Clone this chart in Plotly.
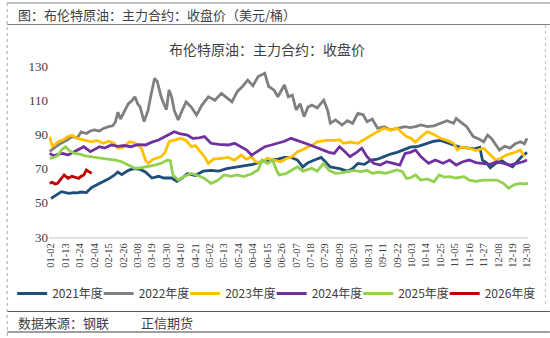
import plotly.graph_objects as go
import pandas as pd

# ---- data: day-of-year (on a leap-year axis) and close price (USD/bbl) ----
days_2021 = [2,5,8,10,13,16,19,22,25,29,33,37,41,46,50,53,56,61,65,70,74,79,84,88,94,98,102,106,112,118,124,130,136,144,150,156,162,168,175,180,185,190,194,198,203,208,215,222,228,232,236,241,246,251,256,261,266,271,276,282,289,294,299,304,309,314,319,325,329,331,334,337,341,346,350,354,358,361,365]
vals_2021 = [52.5,54,55.5,56.5,56,55.5,56,55.8,56.3,56,59,60.5,62,64,66,68,66.5,69,70,69.5,68,64.5,65.5,64.5,64.5,62.5,64.5,67,66,68.5,69,68.5,70,71,72,72.5,74,75,75.5,76.5,76.5,75,71,73.5,75,76.5,71,70,68.5,70,73,72.5,75,75.5,77,78.5,79.5,81,82.5,83,84.8,86,86.5,85,83.8,82.5,82,81.5,82.5,75,73.5,70.5,73,74.5,72.5,71,74.5,77,79.5]

days_2022 = [1,4,7,10,14,18,22,25,29,32,35,39,42,46,49,51,53,55,58,61,64,66,68,70,73,76,78,81,83,86,88,90,92,94,96,99,102,105,109,113,117,122,127,132,136,140,144,148,152,156,160,165,168,172,175,178,180,183,186,189,192,195,198,201,205,210,213,215,219,224,228,232,236,240,243,247,251,256,261,266,272,276,280,284,289,294,299,304,309,311,314,319,324,328,332,335,338,341,344,348,352,356,360,363,365]
vals_2022 = [80,82,83.5,85,86.5,88.7,88,91.5,90.5,92,92.6,92,93.5,94.5,95,97,103,99,104,108,110,112,108,106,97.5,104,112,122.8,121,112,108,104.5,116,112,104,98.5,104,109,106,101.3,107,112,110,114,111.5,109,115,118,121.8,118.5,123.8,125.7,118,116,112,116,118.9,112,113,104.3,108,100.4,106,107.2,105.5,110,104,96.5,98.5,95.5,98,96.5,102.3,101.5,97.4,99,93.6,94.5,92.6,93.5,94.5,94,94.5,95.5,94.5,95,96.5,98,96.5,99.4,97.5,94.5,88.7,87.5,85.7,89.6,87.5,84,80.9,83,82,84.5,85.7,84.5,87.7]

days_2023 = [1,3,5,8,11,15,18,22,26,30,33,37,42,46,50,53,57,62,66,71,74,76,80,86,89,92,96,101,105,109,112,115,119,122,126,132,137,142,147,151,155,158,162,167,172,177,182,186,190,194,198,202,205,209,213,218,222,225,230,236,240,246,251,256,261,266,270,273,276,280,284,289,294,299,304,309,312,315,321,326,332,337,341,345,349,354,360,363]
vals_2023 = [88.7,83,84,86,86.7,88.7,89.5,87.7,87,86,85.7,86.5,84.8,86,84.8,81.9,82.5,85.7,85,81.9,75,73.1,75.5,77,79.5,85.7,86.7,87.7,86.5,82.8,83.5,80.9,77,73.1,75.5,76,76.5,75,77.9,75.5,77,74,73.5,76,75,74,76,77,79.9,81,82.8,84,85.7,86,86.7,86.5,86.9,84.8,85.5,84.8,86.7,89.6,91.6,93.6,92.5,93.6,91,88.7,88,85.5,88.5,91.6,90,87.7,86.5,84.8,80.9,82.5,81.9,80.5,81.9,77.9,75,76,77.9,79,80.9,77]

days_2024 = [1,4,8,11,15,19,24,27,32,35,39,43,48,53,58,63,68,74,79,84,89,93,96,100,104,106,110,115,119,124,130,137,142,147,151,155,159,165,170,175,180,185,190,192,197,203,206,210,214,218,222,226,230,235,239,243,248,253,258,263,268,272,276,280,284,287,290,295,301,306,311,316,321,326,332,337,342,347,352,357,362,365]
vals_2024 = [78.9,77.5,78.5,78.9,77.9,79.5,81.9,82.8,79.9,81,82.8,82,83.8,83,83.5,82.8,84,83.8,85.5,86.7,88.7,90.6,91.6,90.5,90,89.6,87.7,88,88.7,84.8,84.2,83.8,84.8,82.8,81,77.9,80,82.8,83.8,84.8,86,87.7,86.5,85.7,84.5,82.8,82,80.9,79.5,78.9,82.8,80,77,79.5,81.9,77,73.1,72.1,74,73.1,72,78.9,79.5,80.9,77,75,73.1,75,73.1,75,72.1,74,75,73.5,73.1,72.5,74,73,72.1,73.1,74,75]

days_2025 = [1,4,7,10,13,16,20,24,28,31,36,41,46,51,56,61,66,71,76,81,86,91,93,95,99,104,109,114,119,124,129,134,139,144,149,155,160,163,167,171,174,176,181,186,190,194,198,201,205,210,214,219,223,228,233,238,243,247,252,257,262,266,270,273,276,280,284,289,294,298,302,306,311,317,321,326,332,337,342,347,351,355,360,363,366]
vals_2025 = [76,76.5,77.5,80.9,82.8,80.5,78.9,78.5,77.5,77,76.5,76,75.5,75,74,72.1,70.2,70.5,71.1,72,73.1,75,74.5,66.3,63.3,65.5,67.2,66,64.3,61.4,63,66.3,65.5,66.3,65.3,67,69.2,75,73,75,69,66.3,67,69.2,71.1,68.5,69.5,70.2,68.5,73.1,69,67.2,67.5,68.2,69,68.2,69,67.2,68,67.2,68.5,69.2,68.2,64.3,64.5,66.3,63.3,64,62.3,66.3,65,65.3,64.5,65.3,63.3,62.5,63.3,63.5,63.3,61.4,58.5,60.5,61.4,61,61.4]

days_2026 = [1,3,5,7,10,12,15,18,21,23,25,27,29,31,33]
vals_2026 = [61.4,62,61,61.4,64.3,66.3,64.3,65.5,64.8,64.3,65.5,66.3,69.2,68,67.2]

series_names = ["2021年度", "2022年度", "2023年度", "2024年度", "2025年度", "2026年度"]
series_days = [days_2021, days_2022, days_2023, days_2024, days_2025, days_2026]
series_vals = [vals_2021, vals_2022, vals_2023, vals_2024, vals_2025, vals_2026]
colors = ["#1F4E79", "#7F7F7F", "#FFC000", "#7030A0", "#92D050", "#C00000"]

tick_labels = ["01-02","01-13","01-24","02-04","02-15","02-26","03-08","03-19","03-30","04-10",
               "04-21","05-02","05-13","05-24","06-04","06-15","06-26","07-07","07-18","07-29",
               "08-09","08-20","08-31","09-11","09-22","10-03","10-14","10-25","11-05","11-16",
               "11-27","12-08","12-19","12-30"]

BASE = pd.Timestamp("2024-01-01")
def to_date(d):
    return BASE + pd.Timedelta(days=d - 1)

fig = go.Figure()
n = len(series_names)
for i, (name, ds, vs, c) in enumerate(zip(series_names, series_days, series_vals, colors)):
    fig.add_trace(go.Scatter(x=[to_date(d) for d in ds], y=vs, mode="lines", name=name,
                             line=dict(color=c, width=2.8),
                             legendwidth=(54 if i == n - 1 else None)))

# pixel -> paper helpers (plot area: x 47..528, y 66..237)
L, R, T, B = 47, 528, 66, 237
W, H = 550, 338
def xp(px):
    return (px - L) / (R - L)
def yp(py):
    return (B - py) / (B - T)

tickvals = [pd.Timestamp("2024-" + t) for t in tick_labels]

CJK = "Noto Sans CJK SC"
fig.update_layout(
    width=W, height=H,
    margin=dict(l=L, r=W - R, t=T, b=H - B),
    paper_bgcolor="white", plot_bgcolor="white",
    showlegend=True,
    legend=dict(orientation="h", x=xp(10), xanchor="left", y=yp(279), yanchor="top",
                entrywidth=41.5, entrywidthmode="pixels",
                font=dict(family=CJK, size=12, color="#404040"),
                bgcolor="rgba(0,0,0,0)", tracegroupgap=0),
    xaxis=dict(type="date",
               range=[pd.Timestamp("2023-12-31 11:30"), pd.Timestamp("2024-12-30 18:15")],
               tickmode="array", tickvals=tickvals, ticktext=tick_labels,
               tickangle=-90, showgrid=False, zeroline=False,
               showline=True, linecolor="#E0E0E0", linewidth=2,
               ticks="", tickfont=dict(family="Liberation Serif", size=10.5, color="#404040")),
    yaxis=dict(range=[30, 130], tick0=30, dtick=20, showgrid=False, zeroline=False,
               showline=False, ticks="",
               tickfont=dict(family="Liberation Serif", size=13, color="#404040")),
)

def hline(py, x0, x1, color, width=1, dash="solid"):
    fig.add_shape(type="line", xref="paper", yref="paper",
                  x0=xp(x0), x1=xp(x1), y0=yp(py), y1=yp(py),
                  line=dict(color=color, width=width, dash=dash))
def vline(px, y0, y1, color, width=1, dash="solid"):
    fig.add_shape(type="line", xref="paper", yref="paper",
                  x0=xp(px), x1=xp(px), y0=yp(y0), y1=yp(y1),
                  line=dict(color=color, width=width, dash=dash))

hline(3, 5, 550, "#808080", 1.2)
hline(24.5, 5, 550, "#808080", 1.2)
hline(311.5, 5, 550, "#595959", 1.2)
hline(332, 5, 550, "#404040", 1.2)
vline(5, 3, 336, "#A6A6A6", 1, "dot")
vline(545.5, 25, 305, "#BFBFBF", 1, "dot")

def note(text, px, py, size, xanchor="left", color="#404040"):
    fig.add_annotation(text=text, xref="paper", yref="paper", x=xp(px), y=yp(py),
                       xanchor=xanchor, yanchor="middle", showarrow=False,
                       font=dict(family=CJK, size=size, color=color))

note("图：布伦特原油：主力合约：收盘价（美元/桶）", 14, 14, 13)
note("布伦特原油：主力合约：收盘价", 266, 49, 14, xanchor="center")
note("数据来源：钢联", 14, 322, 13)
note("正信期货", 137, 322, 13)

fig.write_html("out.html")
